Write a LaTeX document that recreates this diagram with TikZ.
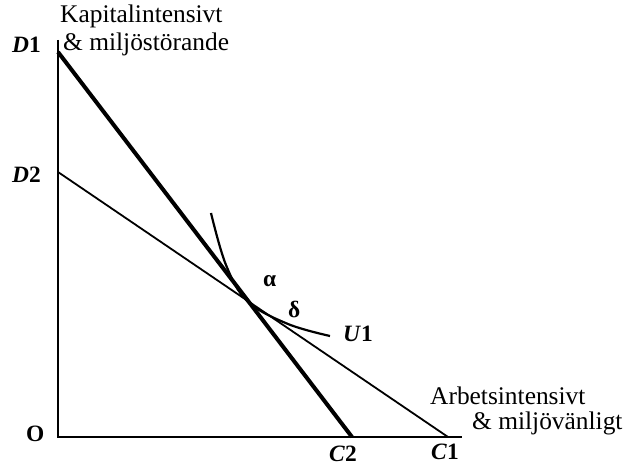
\documentclass[tikz,border=0pt]{standalone}
\usepackage{fontspec}
\setmainfont{Liberation Serif}
\usetikzlibrary{positioning}

\tikzset{
  lbl/.style={anchor=base west, inner sep=0pt, font=\fontsize{23.5}{28}\selectfont\bfseries},
  txt/.style={anchor=base west, inner sep=0pt, font=\fontsize{25.5}{30}\selectfont},
  axis/.style={line width=2.6bp},
  budget/.style={line width=4bp},
  budgetthin/.style={line width=1.8bp},
}

\begin{document}
\begin{tikzpicture}[x=1bp, y=1bp]
  \useasboundingbox (-58,-31) rectangle (567,437);

  % axes
  \coordinate (O) at (0,0);
  \coordinate (ytop) at (0,397);
  \coordinate (xend) at (404,0);
  \draw[axis] (ytop) -- (O) -- (xend);

  % intercepts
  \coordinate (D1) at (0,385);
  \coordinate (D2) at (0,265);
  \coordinate (C2) at (294,0);
  \coordinate (C1) at (390,0);

  % the two budget lines
  \draw[budget] (D1) -- (C2);
  \draw[budgetthin] (D2) -- (C1);

  % indifference curve U1 through the crossing
  \coordinate (alpha) at (189.6,135.6);
  \draw[line width=2.2bp] plot[smooth, tension=0.6] coordinates
     {(153,224) (168,172) (alpha) (230,113) (272,101)};

  % labels on the axes
  \node[lbl] (lD1) at (-46,384) {\textit{D}1};
  \node[lbl] (lD2) at (-46,254) {\textit{D}2};
  \node[lbl] (lO)  at (-32,-5)  {O};
  \node[lbl] (lC2) at (271,-25) {\textit{C}2};
  \node[lbl] (lC1) at (373,-23) {\textit{C}1};

  % points and curve
  \node[lbl] (la) at (205,150) {α};
  \node[lbl] (ld) at (230,119) {δ};
  \node[lbl] (lU1) at (285,95) {\textit{U}1};

  % descriptions at the ends of the axes
  \node[txt] (kap1) at (2,414)  {Kapitalintensivt};
  \node[txt] (kap2) at (5,386)  {\& miljöstörande};
  \node[txt] (arb1) at (372,32) {Arbetsintensivt};
  \node[txt] (arb2) at (414,7)  {\& miljövänligt};
\end{tikzpicture}
\end{document}
